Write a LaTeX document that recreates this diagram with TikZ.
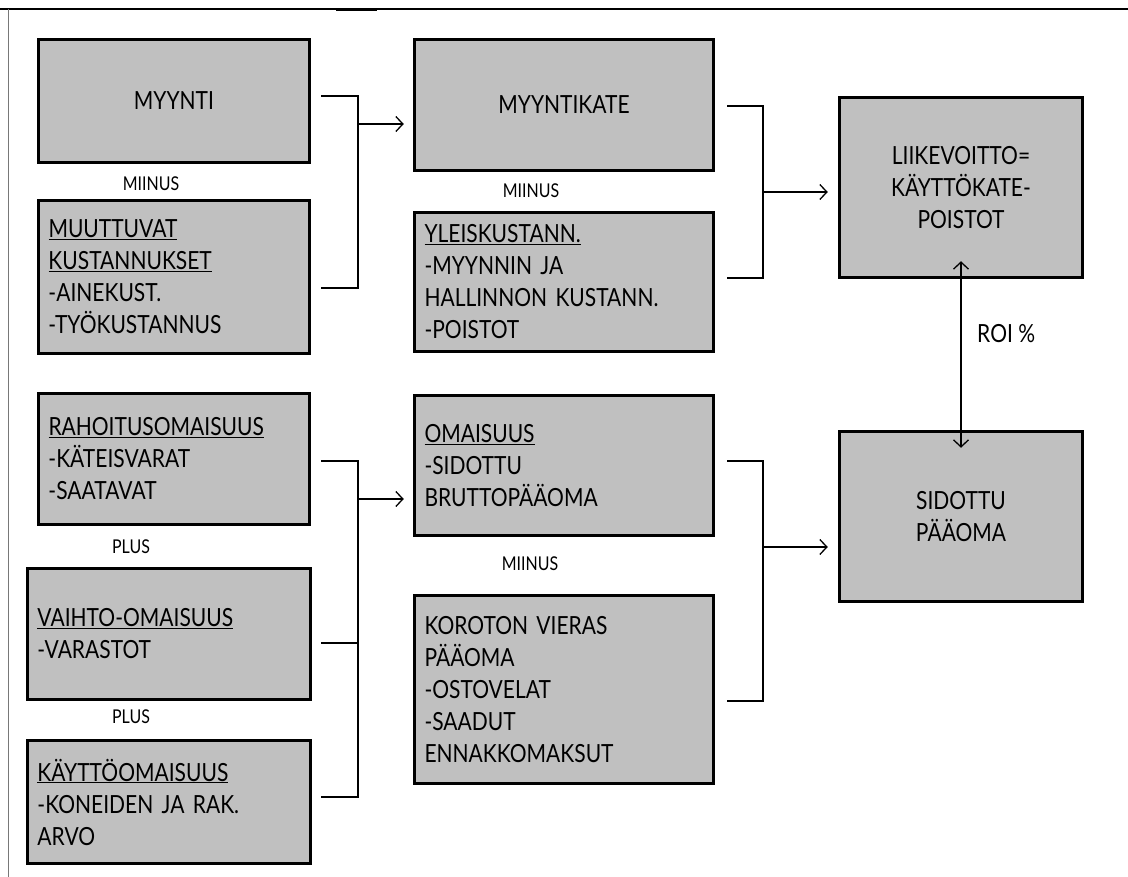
\documentclass[tikz,border=0pt]{standalone}
\usepackage{fontspec}
\setmainfont{Lato}[FakeStretch=0.84]
\usetikzlibrary{arrows.meta,calc}
\definecolor{boxgray}{RGB}{192,192,192}
\definecolor{framegray}{RGB}{120,120,120}
\begin{document}
\begin{tikzpicture}[x=1pt,y=-1pt,
  box/.style={draw=black, line width=3.5pt, fill=boxgray, inner xsep=10pt, inner ysep=0pt,
              font=\fontsize{25}{32}\selectfont, align=left},
  cbox/.style={box, align=center},
  conn/.style={line width=1.3pt, draw=black},
  tip/.style={},
  arr/.style={conn, -{Straight Barb[length=7pt, width=15pt, line width=1.3pt]}},
  darr/.style={conn, {Straight Barb[length=7pt, width=15pt, line width=1.3pt]}-{Straight Barb[length=7pt, width=15pt, line width=1.3pt]}},
  note/.style={font=\fontsize{19}{22}\selectfont, inner sep=0pt},
  roilabel/.style={font=\fontsize{25}{30}\selectfont, inner sep=0pt}]
\useasboundingbox (0,0) rectangle (1128,877);
% frame
\draw[line width=1.4pt] (0,9) -- (1128,9);
\draw[line width=1pt, framegray] (8,9) -- (8,877);
\draw[line width=3pt] (336,10) -- (377,10);

% column 1
\node[cbox, minimum width=271pt, minimum height=123pt, text width=251pt] (myynti) at (174,101) {MYYNTI};
\node[box, minimum width=271pt, minimum height=153pt, text width=251pt] (muuttuvat) at (174,277)
  {\underline{MUUTTUVAT}\\\underline{KUSTANNUKSET}\\-AINEKUST.\\-TYÖKUSTANNUS};
\node[box, minimum width=271pt, minimum height=131pt, text width=251pt] (rahoitus) at (174,459)
  {\underline{RAHOITUSOMAISUUS}\\-KÄTEISVARAT\\-SAATAVAT};
\node[box, minimum width=283pt, minimum height=131pt, text width=263pt] (vaihto) at (169,634)
  {\underline{VAIHTO-OMAISUUS}\\-VARASTOT};
\node[box, minimum width=283pt, minimum height=123pt, text width=263pt] (kaytto) at (169,802)
  {\underline{KÄYTTÖOMAISUUS}\\-KONEIDEN JA RAK.\\ARVO};

% column 2
\node[cbox, minimum width=299pt, minimum height=131pt, text width=279pt] (myyntikate) at (564,105) {MYYNTIKATE};
\node[box, minimum width=299pt, minimum height=139pt, text width=279pt] (yleis) at (564,282)
  {\underline{YLEISKUSTANN.}\\-MYYNNIN JA\\HALLINNON KUSTANN.\\-POISTOT};
\node[box, minimum width=299pt, minimum height=140pt, text width=279pt] (omaisuus) at (564,465.5)
  {\underline{OMAISUUS}\\-SIDOTTU\\BRUTTOPÄÄOMA};
\node[box, minimum width=299pt, minimum height=188pt, text width=279pt] (koroton) at (564,689.5)
  {KOROTON VIERAS\\PÄÄOMA\\-OSTOVELAT\\-SAADUT\\ENNAKKOMAKSUT};

% column 3
\node[cbox, minimum width=243pt, minimum height=180pt, text width=223pt] (liike) at (961,187.5)
  {LIIKEVOITTO=\\KÄYTTÖKATE-\\POISTOT};
\node[cbox, minimum width=243pt, minimum height=170pt, text width=223pt] (sidottu) at (961,516.5)
  {SIDOTTU\\PÄÄOMA};

% small labels
\node[note] (miinus1) at (151,184) {MIINUS};
\node[note] (miinus2) at (531,191) {MIINUS};
\node[note] (plus1) at (131,547) {PLUS};
\node[note] (miinus3) at (530,564) {MIINUS};
\node[note] (plus2) at (131,717) {PLUS};

% bracket 1
\coordinate (b1a) at (321,96);
\coordinate (b1b) at (321,288);
\coordinate (b1m) at (358,124);
\draw[conn] (b1a) -- (358,96) -- (358,288) -- (b1b);
\draw[arr, shorten >=9pt] (b1m) -- (myyntikate.west |- b1m);

% bracket 2
\coordinate (b2a) at (727,106);
\coordinate (b2b) at (727,278);
\coordinate (b2m) at (763,192);
\draw[conn] (b2a) -- (763,106) -- (763,278) -- (b2b);
\draw[arr, shorten >=10pt] (b2m) -- (liike.west |- b2m);

% bracket 3
\coordinate (b3a) at (321,461);
\coordinate (b3c) at (321,643);
\coordinate (b3b) at (321,797);
\coordinate (b3m) at (358,499);
\draw[conn] (b3a) -- (358,461) -- (358,797) -- (b3b);
\draw[conn] (b3c) -- (358,643);
\draw[arr, shorten >=9pt] (b3m) -- (omaisuus.west |- b3m);

% bracket 4
\coordinate (b4a) at (727,461);
\coordinate (b4b) at (727,701);
\coordinate (b4m) at (763,547);
\draw[conn] (b4a) -- (763,461) -- (763,701) -- (b4b);
\draw[arr, shorten >=10pt] (b4m) -- (sidottu.west |- b4m);

% ROI
\draw[darr] ([yshift=18pt]liike.south) -- ([yshift=-18pt]sidottu.north);
\node[roilabel, anchor=west] (roi) at (977,334) {ROI \%};
\end{tikzpicture}
\end{document}
